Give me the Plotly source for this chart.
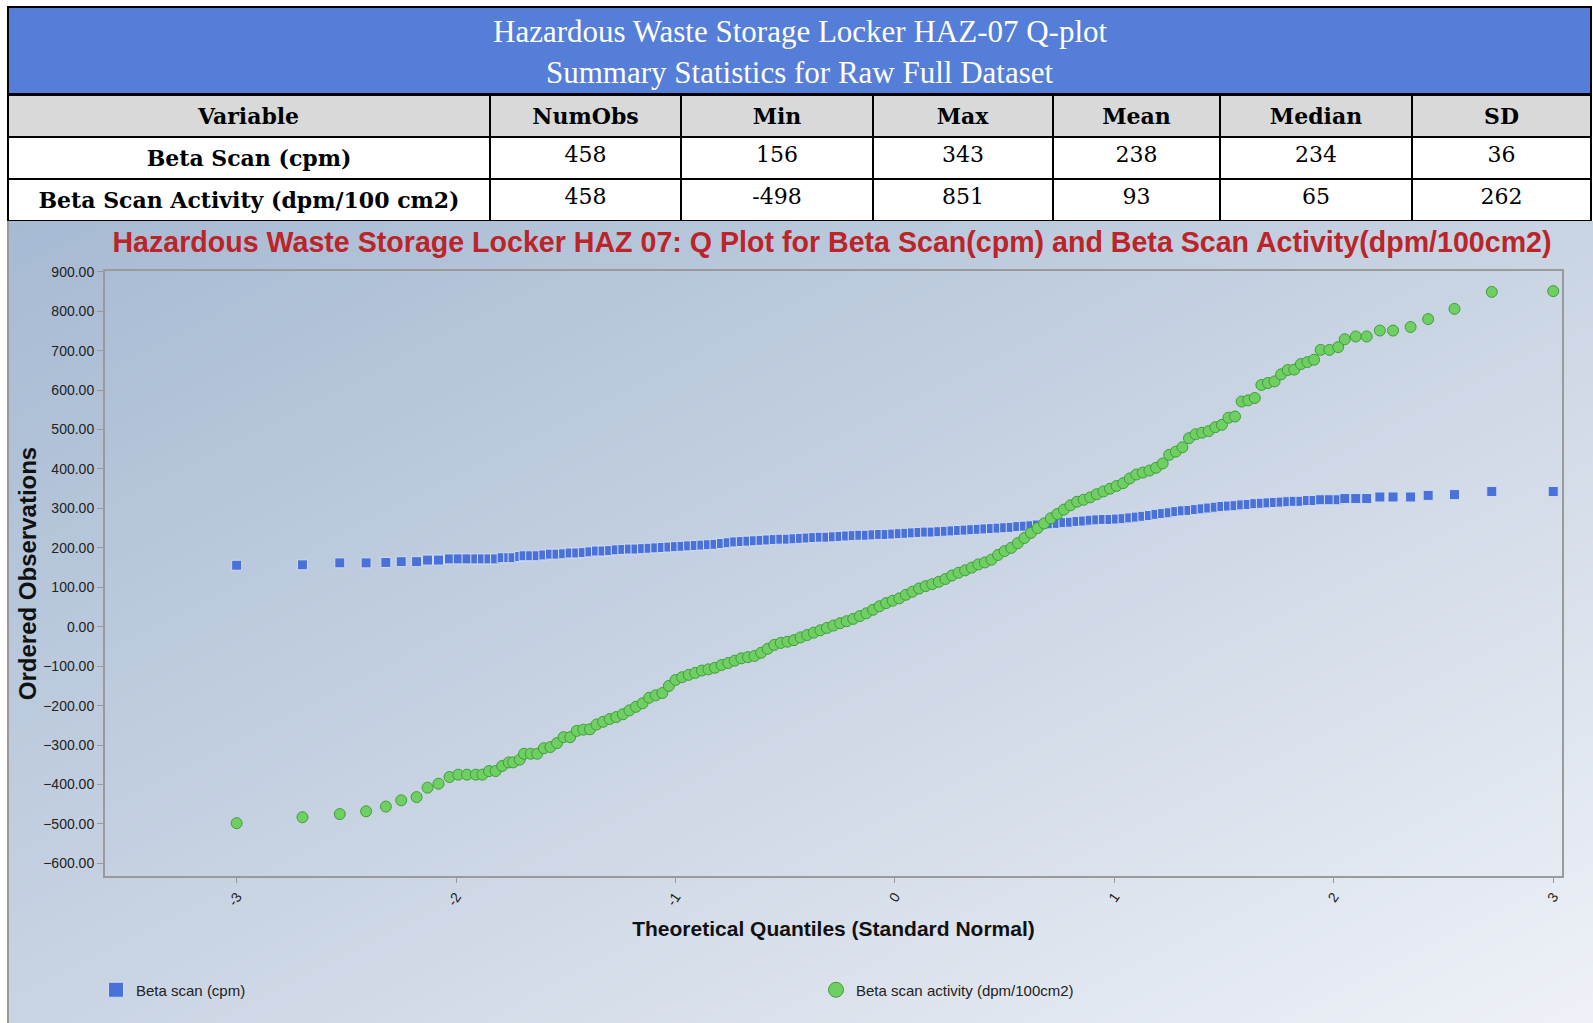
import plotly.graph_objects as go

W, H = 1593, 1023

# ---------------- data ----------------
table_title = ["Hazardous Waste Storage Locker HAZ-07 Q-plot", "Summary Statistics for Raw Full Dataset"]
col_names = ["Variable", "NumObs", "Min", "Max", "Mean", "Median", "SD"]
variables = ["Beta Scan (cpm)", "Beta Scan Activity (dpm/100 cm2)"]
num_obs = [458, 458]
min_vals = [156, -498]
max_vals = [343, 851]
mean_vals = [238, 93]
median_vals = [234, 65]
sd_vals = [36, 262]

quantiles = [
    -3.00, -2.70, -2.53, -2.41, -2.32, -2.25, -2.18, -2.13, -2.08, -2.03,
    -1.99, -1.95, -1.91, -1.88, -1.85, -1.82, -1.79, -1.76, -1.74, -1.71,
    -1.69, -1.66, -1.63, -1.60, -1.57, -1.54, -1.51, -1.48, -1.45, -1.42,
    -1.39, -1.36, -1.33, -1.30, -1.27, -1.24, -1.21, -1.18, -1.15, -1.12,
    -1.09, -1.06, -1.03, -1.00, -0.97, -0.94, -0.91, -0.88, -0.85, -0.82,
    -0.79, -0.76, -0.73, -0.70, -0.67, -0.64, -0.61, -0.58, -0.55, -0.52,
    -0.49, -0.46, -0.43, -0.40, -0.37, -0.34, -0.31, -0.28, -0.25, -0.22,
    -0.19, -0.16, -0.13, -0.10, -0.07, -0.04, -0.01, 0.02, 0.05, 0.08,
    0.11, 0.14, 0.17, 0.20, 0.23, 0.26, 0.29, 0.32, 0.35, 0.38,
    0.41, 0.44, 0.47, 0.50, 0.53, 0.56, 0.59, 0.62, 0.65, 0.68,
    0.71, 0.74, 0.77, 0.80, 0.83, 0.86, 0.89, 0.92, 0.95, 0.98,
    1.01, 1.04, 1.07, 1.10, 1.13, 1.16, 1.19, 1.22, 1.25, 1.28,
    1.31, 1.34, 1.37, 1.40, 1.43, 1.46, 1.49, 1.52, 1.55, 1.58,
    1.61, 1.64, 1.67, 1.70, 1.73, 1.76, 1.79, 1.82, 1.85, 1.88,
    1.91, 1.94, 1.98, 2.02, 2.05, 2.10, 2.15, 2.21, 2.27, 2.35,
    2.43, 2.55, 2.72, 3.00,
]

beta_scan_cpm = [
    156, 157, 162, 162, 163, 165, 165, 169, 169, 172,
    172, 172, 172, 172, 172, 172, 175, 175, 175, 178,
    180, 180, 180, 182, 184, 184, 185, 187, 187, 188,
    190, 192, 192, 193, 195, 196, 197, 197, 198, 199,
    200, 201, 202, 203, 204, 205, 206, 207, 208, 209,
    211, 213, 215, 216, 217, 218, 219, 220, 221, 222,
    222, 223, 224, 225, 226, 227, 227, 228, 229, 230,
    231, 232, 232, 233, 234, 234, 235, 236, 237, 238,
    239, 240, 240, 241, 242, 243, 244, 245, 246, 247,
    248, 249, 250, 251, 252, 254, 255, 256, 258, 259,
    261, 262, 264, 265, 267, 268, 270, 271, 272, 272,
    273, 274, 276, 278, 280, 282, 285, 287, 289, 292,
    294, 295, 297, 299, 301, 303, 305, 306, 307, 309,
    310, 312, 313, 314, 315, 316, 317, 318, 318, 320,
    320, 322, 322, 322, 325, 325, 325, 329, 329, 329,
    333, 335, 343, 343,
]

beta_scan_activity = [
    -498, -483, -475, -468, -456, -440, -432, -408, -398, -381,
    -375, -375, -375, -375, -366, -366, -353, -344, -344, -337,
    -322, -322, -322, -308, -305, -295, -280, -280, -264, -261,
    -260, -248, -241, -234, -229, -222, -212, -203, -194, -180,
    -174, -168, -150, -135, -128, -122, -117, -111, -108, -104,
    -97, -92, -86, -80, -77, -74, -66, -56, -46, -41,
    -38, -34, -27, -21, -15, -9, -3, 3, 9, 14,
    20, 27, 34, 43, 52, 60, 66, 72, 81, 89,
    97, 103, 108, 114, 121, 130, 137, 143, 150, 158,
    163, 170, 182, 192, 200, 212, 225, 238, 250, 262,
    275, 286, 297, 308, 317, 322, 328, 336, 343, 350,
    357, 364, 376, 386, 391, 396, 403, 414, 436, 444,
    455, 478, 488, 492, 496, 506, 512, 530, 533, 571,
    574, 580, 613, 618, 622, 640, 651, 652, 666, 671,
    677, 702, 702, 709, 729, 736, 736, 751, 751, 760,
    780, 806, 849, 851,
]

y_ticks = [900, 800, 700, 600, 500, 400, 300, 200, 100, 0, -100, -200, -300, -400, -500, -600]
x_ticks = [-3, -2, -1, 0, 1, 2, 3]

# ---------------- helpers ----------------
def px_x(p):
    return p / W

def px_y(p):
    return 1 - p / H

SERIF = "Liberation Serif, Times New Roman, serif"
TSERIF = "DejaVu Serif, Liberation Serif, serif"
SANS = "Liberation Sans, Arial, sans-serif"

BLUE = dict(symbol="square", color="#4a72d6", line=dict(color="#cfdaf6", width=1))
GREEN = dict(symbol="circle", color="#6fcf62", line=dict(color="#3f9e3b", width=1))

fig = go.Figure()

# gradient background for the chart panel (hidden axes x / y)
fig.add_trace(go.Heatmap(
    z=[[0.5, 1.0], [0.0, 0.5]], x=[0, 1], y=[0, 1],
    zsmooth="best", showscale=False, hoverinfo="skip",
    colorscale=[[0, "#a6bad3"], [0.5, "#c9d4e3"], [1, "#eef1f7"]],
    xaxis="x", yaxis="y",
))

# data series on x2 / y2
fig.add_trace(go.Scatter(
    x=quantiles, y=beta_scan_cpm, mode="markers", name="Beta scan (cpm)",
    marker=dict(size=10, **BLUE), showlegend=False, legendgroup="cpm",
    xaxis="x2", yaxis="y2",
))
fig.add_trace(go.Scatter(
    x=quantiles, y=beta_scan_activity, mode="markers",
    name="Beta scan activity (dpm/100cm2)",
    marker=dict(size=11, **GREEN), showlegend=False, legendgroup="dpm",
    xaxis="x2", yaxis="y2",
))
# legend entries (larger symbols, like the original legend)
fig.add_trace(go.Scatter(
    x=[None], y=[None], mode="markers", name="Beta scan (cpm)",
    marker=dict(size=15, **BLUE), legendgroup="cpm", xaxis="x2", yaxis="y2",
))
fig.add_trace(go.Scatter(
    x=[None], y=[None], mode="markers", name="Beta scan activity (dpm/100cm2)",
    marker=dict(size=15, **GREEN), legendgroup="dpm", xaxis="x2", yaxis="y2",
))

# summary table
col_w = [482, 191, 192, 180, 167, 192, 179]
cells = [
    ["<b>%s</b>" % v for v in variables],
    [str(v) for v in num_obs],
    [str(v) for v in min_vals],
    [str(v) for v in max_vals],
    [str(v) for v in mean_vals],
    [str(v) for v in median_vals],
    [str(v) for v in sd_vals],
]
fig.add_trace(go.Table(
    domain=dict(x=[px_x(8), px_x(1591)], y=[px_y(221), px_y(95)]),
    columnwidth=col_w,
    header=dict(values=["<b>%s</b>" % c for c in col_names],
                fill_color="#d9d9d9", line=dict(color="black", width=2),
                align="center", height=41,
                font=dict(family=TSERIF, size=22, color="black")),
    cells=dict(values=cells, fill_color="white",
               line=dict(color="black", width=2),
               align="center", height=42,
               font=dict(family=TSERIF, size=22, color="black")),
))

shapes = [
    # blue title band
    dict(type="rect", xref="paper", yref="paper",
         x0=px_x(8), x1=px_x(1591), y0=px_y(94), y1=px_y(7),
         fillcolor="#557ed9", line=dict(color="black", width=2), layer="below"),
    # left border of chart panel
    dict(type="line", xref="paper", yref="paper",
         x0=px_x(8), x1=px_x(8), y0=0, y1=px_y(221),
         line=dict(color="#9a9a9a", width=2)),
]

annotations = [
    dict(text=table_title[0], xref="paper", yref="paper", x=px_x(800), y=px_y(32),
         showarrow=False, font=dict(family=SERIF, size=31, color="white"),
         xanchor="center", yanchor="middle"),
    dict(text=table_title[1], xref="paper", yref="paper", x=px_x(800), y=px_y(72),
         showarrow=False, font=dict(family=SERIF, size=31, color="white"),
         xanchor="center", yanchor="middle"),
]

plot_x0, plot_x1 = 105, 1562
plot_top, plot_bot = 271, 876

fig.update_layout(
    width=W, height=H,
    margin=dict(l=0, r=0, t=0, b=0, autoexpand=False),
    paper_bgcolor="white", plot_bgcolor="rgba(0,0,0,0)",
    title=dict(text="<b>Hazardous Waste Storage Locker HAZ 07: Q Plot for Beta Scan(cpm) and Beta Scan Activity(dpm/100cm2)</b>",
               x=px_x(832), y=px_y(242), xanchor="center", yanchor="middle",
               font=dict(family=SANS, size=28.6, color="#bb2429")),
    xaxis=dict(domain=[px_x(8), 1], range=[0, 1], visible=False, fixedrange=True),
    yaxis=dict(domain=[0, px_y(221)], range=[0, 1], visible=False, fixedrange=True),
    xaxis2=dict(domain=[px_x(plot_x0), px_x(plot_x1)], anchor="y2",
                range=[-3.60, 3.04], tickvals=x_ticks, ticktext=[str(v) for v in x_ticks],
                tickangle=-55, ticks="outside", ticklen=5, tickcolor="#9a9a9a",
                showgrid=False, zeroline=False, showline=True, linecolor="#9a9a9a",
                linewidth=2, mirror=True,
                tickfont=dict(family=SANS, size=14, color="#222"),
                title=dict(text="<b>Theoretical Quantiles (Standard Normal)</b>",
                           font=dict(family=SANS, size=21, color="#111"), standoff=14)),
    yaxis2=dict(domain=[px_y(plot_bot), px_y(plot_top)], anchor="x2",
                range=[-632, 902], tickvals=y_ticks, tickformat=".2f",
                ticks="outside", ticklen=6, tickcolor="#9a9a9a",
                showgrid=False, zeroline=False, showline=True, linecolor="#9a9a9a",
                linewidth=2, mirror=True,
                tickfont=dict(family=SANS, size=14, color="#222"),
                title=dict(text="<b>Ordered Observations</b>",
                           font=dict(family=SANS, size=24, color="#111"), standoff=0)),
    showlegend=True,
    legend=dict(orientation="h", x=px_x(96), y=px_y(990), xanchor="left", yanchor="middle",
                bgcolor="rgba(0,0,0,0)", entrywidth=675, entrywidthmode="pixels",
                font=dict(family=SANS, size=15, color="#222"), itemsizing="trace"),
    shapes=shapes,
    annotations=annotations,
)

fig.write_html("out.html")
